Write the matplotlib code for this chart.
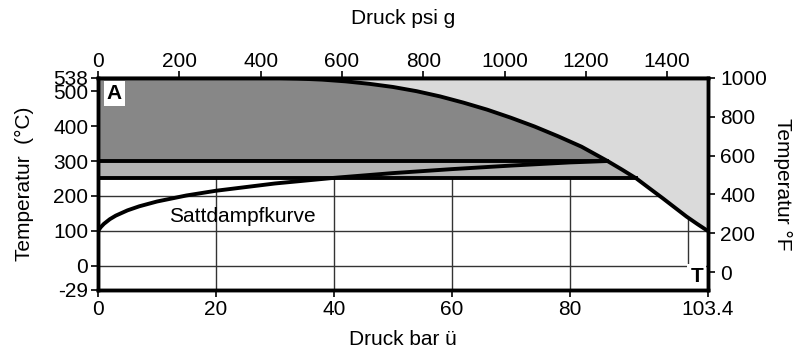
import matplotlib.pyplot as plt
import numpy as np

plt.rcParams['font.family'] = ['Liberation Sans', 'DejaVu Sans']
plt.rcParams['font.size'] = 15

# --- data --------------------------------------------------------------
# limit curve of the body (bar g, degC)
limit_p = [30, 34, 38, 42, 46, 50, 54, 58, 62, 66, 70, 74, 78, 82,
           86.4, 88.8, 91.3, 93.5, 95.8, 97.8, 99.8, 101.6, 103.4]
limit_t = [538, 536, 533, 528, 521, 512, 500, 485, 467, 447, 424, 399, 371, 341,
           300, 276, 250, 222, 193, 167, 141, 120, 100]

# saturated steam curve (bar g, degC)
sat_p = [0, 0.5, 1, 2, 3, 5, 7, 10, 15, 20, 30, 40, 50, 60, 70, 80, 86.4]
sat_t = [100, 111.4, 120.2, 133.5, 143.6, 158.8, 170.4, 184.1, 201.4, 214.9,
         235.7, 251.8, 265.4, 276.8, 286.9, 296.0, 300]

t_ticks_c = [-29, 0, 100, 200, 300, 400, 500, 538]
t_ticks_f = [0, 200, 400, 600, 800, 1000]
p_ticks_bar = [0, 20, 40, 60, 80, 103.4]
p_labels_bar = ['0', '20', '40', '60', '80', '103.4']
p_ticks_psi = [0, 200, 400, 600, 800, 1000, 1200, 1400]
grid_t = [0, 100, 200]
grid_p = [20, 40, 60, 80, 100]

P_MAX = 103.4
T_MIN, T_MAX = -29, 538
BAND_LO, BAND_HI = 250, 300

# below 0 degC the scale is stretched (like on the original sheet)
STRETCH = 69 / 29


def fwd(y):
    y = np.asarray(y, dtype=float)
    return np.where(y >= 0, y, y * STRETCH)


def inv(y):
    y = np.asarray(y, dtype=float)
    return np.where(y >= 0, y, y / STRETCH)


def c2f(c):
    return c * 9 / 5 + 32


# --- figure ------------------------------------------------------------
fig = plt.figure(figsize=(7.97, 3.54), dpi=100)
ax = fig.add_axes([0.123, 0.181, 0.765, 0.599])
ax.set_yscale('function', functions=(fwd, inv))
ax.set_xlim(0, P_MAX)
ax.set_ylim(T_MIN, T_MAX)

lp = np.array([0] + limit_p)
lt = np.array([T_MAX] + limit_t)

# grid first, the grey areas cover it
for t in grid_t:
    ax.axhline(t, color='#333333', lw=1.0, zorder=1)
for p in grid_p:
    ax.axvline(p, color='#333333', lw=1.0, zorder=1)

# areas
ax.fill_betweenx(lt, lp, P_MAX, color='#dadada', lw=0, zorder=2)
m = lt >= BAND_HI
ax.fill_betweenx(lt[m], 0, lp[m], color='#878787', lw=0, zorder=2)
m = (lt >= BAND_LO) & (lt <= BAND_HI)
ax.fill_betweenx(lt[m], 0, lp[m], color='#b3b3b3', lw=0, zorder=2)

# lines
ax.plot(limit_p, limit_t, color='black', lw=2.8, zorder=4, solid_capstyle='butt')
ax.plot(sat_p, sat_t, color='black', lw=2.8, zorder=4, solid_capstyle='butt')
ax.plot([0, np.interp(-BAND_HI, -lt, lp)], [BAND_HI, BAND_HI], color='black', lw=2.8, zorder=4)
ax.plot([0, np.interp(-BAND_LO, -lt, lp)], [BAND_LO, BAND_LO], color='black', lw=2.8, zorder=4)

ax.text(24.5, 140, 'Sattdampfkurve', ha='center', va='center', zorder=5)
ax.text(0.027, 0.925, 'A', transform=ax.transAxes, ha='center', va='center',
        fontweight='bold', zorder=6,
        bbox=dict(boxstyle='square,pad=0.15', fc='white', ec='none'))
ax.text(0.982, 0.062, 'T', transform=ax.transAxes, ha='center', va='center',
        fontweight='bold', zorder=6,
        bbox=dict(boxstyle='square,pad=0.15', fc='white', ec='none'))

# axes, ticks, labels
ax.set_xticks(p_ticks_bar)
ax.set_xticklabels(p_labels_bar)
ax.set_yticks(t_ticks_c)
ax.set_yticklabels([str(t) for t in t_ticks_c])
ax.tick_params(length=5, width=1.2, pad=2)
ax.set_xlabel('Druck bar ü', labelpad=8)
ax.set_ylabel('Temperatur  (°C)', labelpad=14)
for s in ax.spines.values():
    s.set_linewidth(2.5)
    s.set_zorder(7)

top = ax.secondary_xaxis('top', functions=(lambda b: b * 14.5038, lambda p: p / 14.5038))
top.set_xticks(p_ticks_psi)
top.tick_params(length=5, width=1.2, pad=0)
top.set_xlabel('Druck psi g', labelpad=20)
top.spines['top'].set_linewidth(2.5)

right = ax.twinx()
right.set_ylim(c2f(fwd(T_MIN)), c2f(T_MAX))
right.set_yticks(t_ticks_f)
right.tick_params(length=5, width=1.2, pad=4)
right.set_ylabel('Temperatur °F', rotation=270, labelpad=18)
for s in right.spines.values():
    s.set_linewidth(2.5)

fig.savefig('out.png', dpi=100)
